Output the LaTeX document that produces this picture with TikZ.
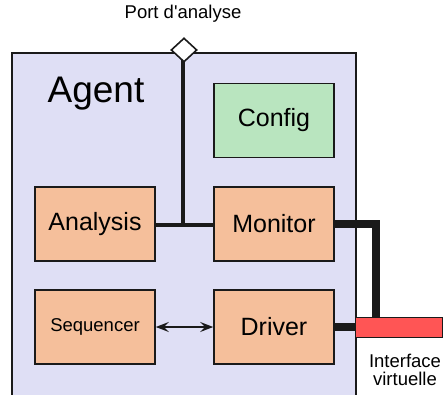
\documentclass[tikz,border=0pt]{standalone}
\usepackage{fontspec}
\setmainfont{Liberation Sans}
\usetikzlibrary{shapes.geometric,arrows.meta}
\definecolor{agentbg}{HTML}{DFDFF5}
\definecolor{blockbg}{HTML}{F5BF9B}
\definecolor{cfgbg}{HTML}{B9E5BF}
\definecolor{ifacebg}{HTML}{FF5555}
\definecolor{edge}{HTML}{1A1A1A}
\tikzset{
  block/.style={draw=edge, line width=1.6pt, fill=blockbg, minimum width=120pt,
    minimum height=74pt, inner sep=0pt, font=\fontsize{25}{28}\selectfont},
  cfgbox/.style={block, fill=cfgbg},
  thinwire/.style={line width=4pt, edge},
  thickwire/.style={line width=8.5pt, edge},
  lbl/.style={inner sep=0pt, align=center, font=\fontsize{18.5}{17}\selectfont},
  seqarrows/.style={line width=1.5pt, edge,
    arrows={Stealth[length=13pt,width=10pt,inset=5pt]-Stealth[length=13pt,width=10pt,inset=5pt]}}
}
\begin{document}
\begin{tikzpicture}[x=1pt,y=-1pt]
\useasboundingbox (0,0) rectangle (446,395);
\clip (0,0) rectangle (446,395);
% agent container
\node[draw=edge, line width=1.6pt, fill=agentbg, minimum width=344pt, minimum height=360pt,
  inner sep=0pt, anchor=north west] (agent) at (11,52) {};
\node[lbl, font=\fontsize{37}{40}\selectfont] (agentlbl) at (96,94) {Agent};
% inner blocks
\node[cfgbox] (config) at (274,120.5) {Config};
\node[block] (analysis) at (95,224) {Analysis};
\node[block] (monitor) at (274,224) {Monitor};
\node[block, font=\fontsize{18.5}{20}\selectfont] (sequencer) at (95,327) {Sequencer};
\node[block] (driver) at (274,327) {Driver};
% analysis port
\node[lbl] (portlbl) at (183,14) {Port d\textquotesingle analyse};
\coordinate (tap) at (183,225);
\draw[thinwire] (analysis.east |- tap) -- (monitor.west |- tap);
\draw[thinwire] (183,50) -- (tap);
\node[diamond, draw=edge, fill=white, line width=1.6pt, minimum width=26pt,
  minimum height=24pt, inner sep=0pt] (port) at (184,50) {};
% virtual interface
\coordinate (bend) at (376,224);
\node[fill=ifacebg, draw=edge, line width=0.6pt, minimum width=87pt, minimum height=20pt,
  inner sep=0pt] (iface) at (398.5,327) {};
\draw[thickwire, line join=miter] (monitor.east) -- (bend) -- (bend |- iface.north);
\draw[thickwire] (driver.east) -- (iface.west);
\node[lbl] (ifacelbl1) at (405,361) {Interface};
\node[lbl] (ifacelbl2) at (405,379) {virtuelle};
% sequencer <-> driver
\draw[seqarrows] (sequencer.east) -- (driver.west);
\end{tikzpicture}
\end{document}
